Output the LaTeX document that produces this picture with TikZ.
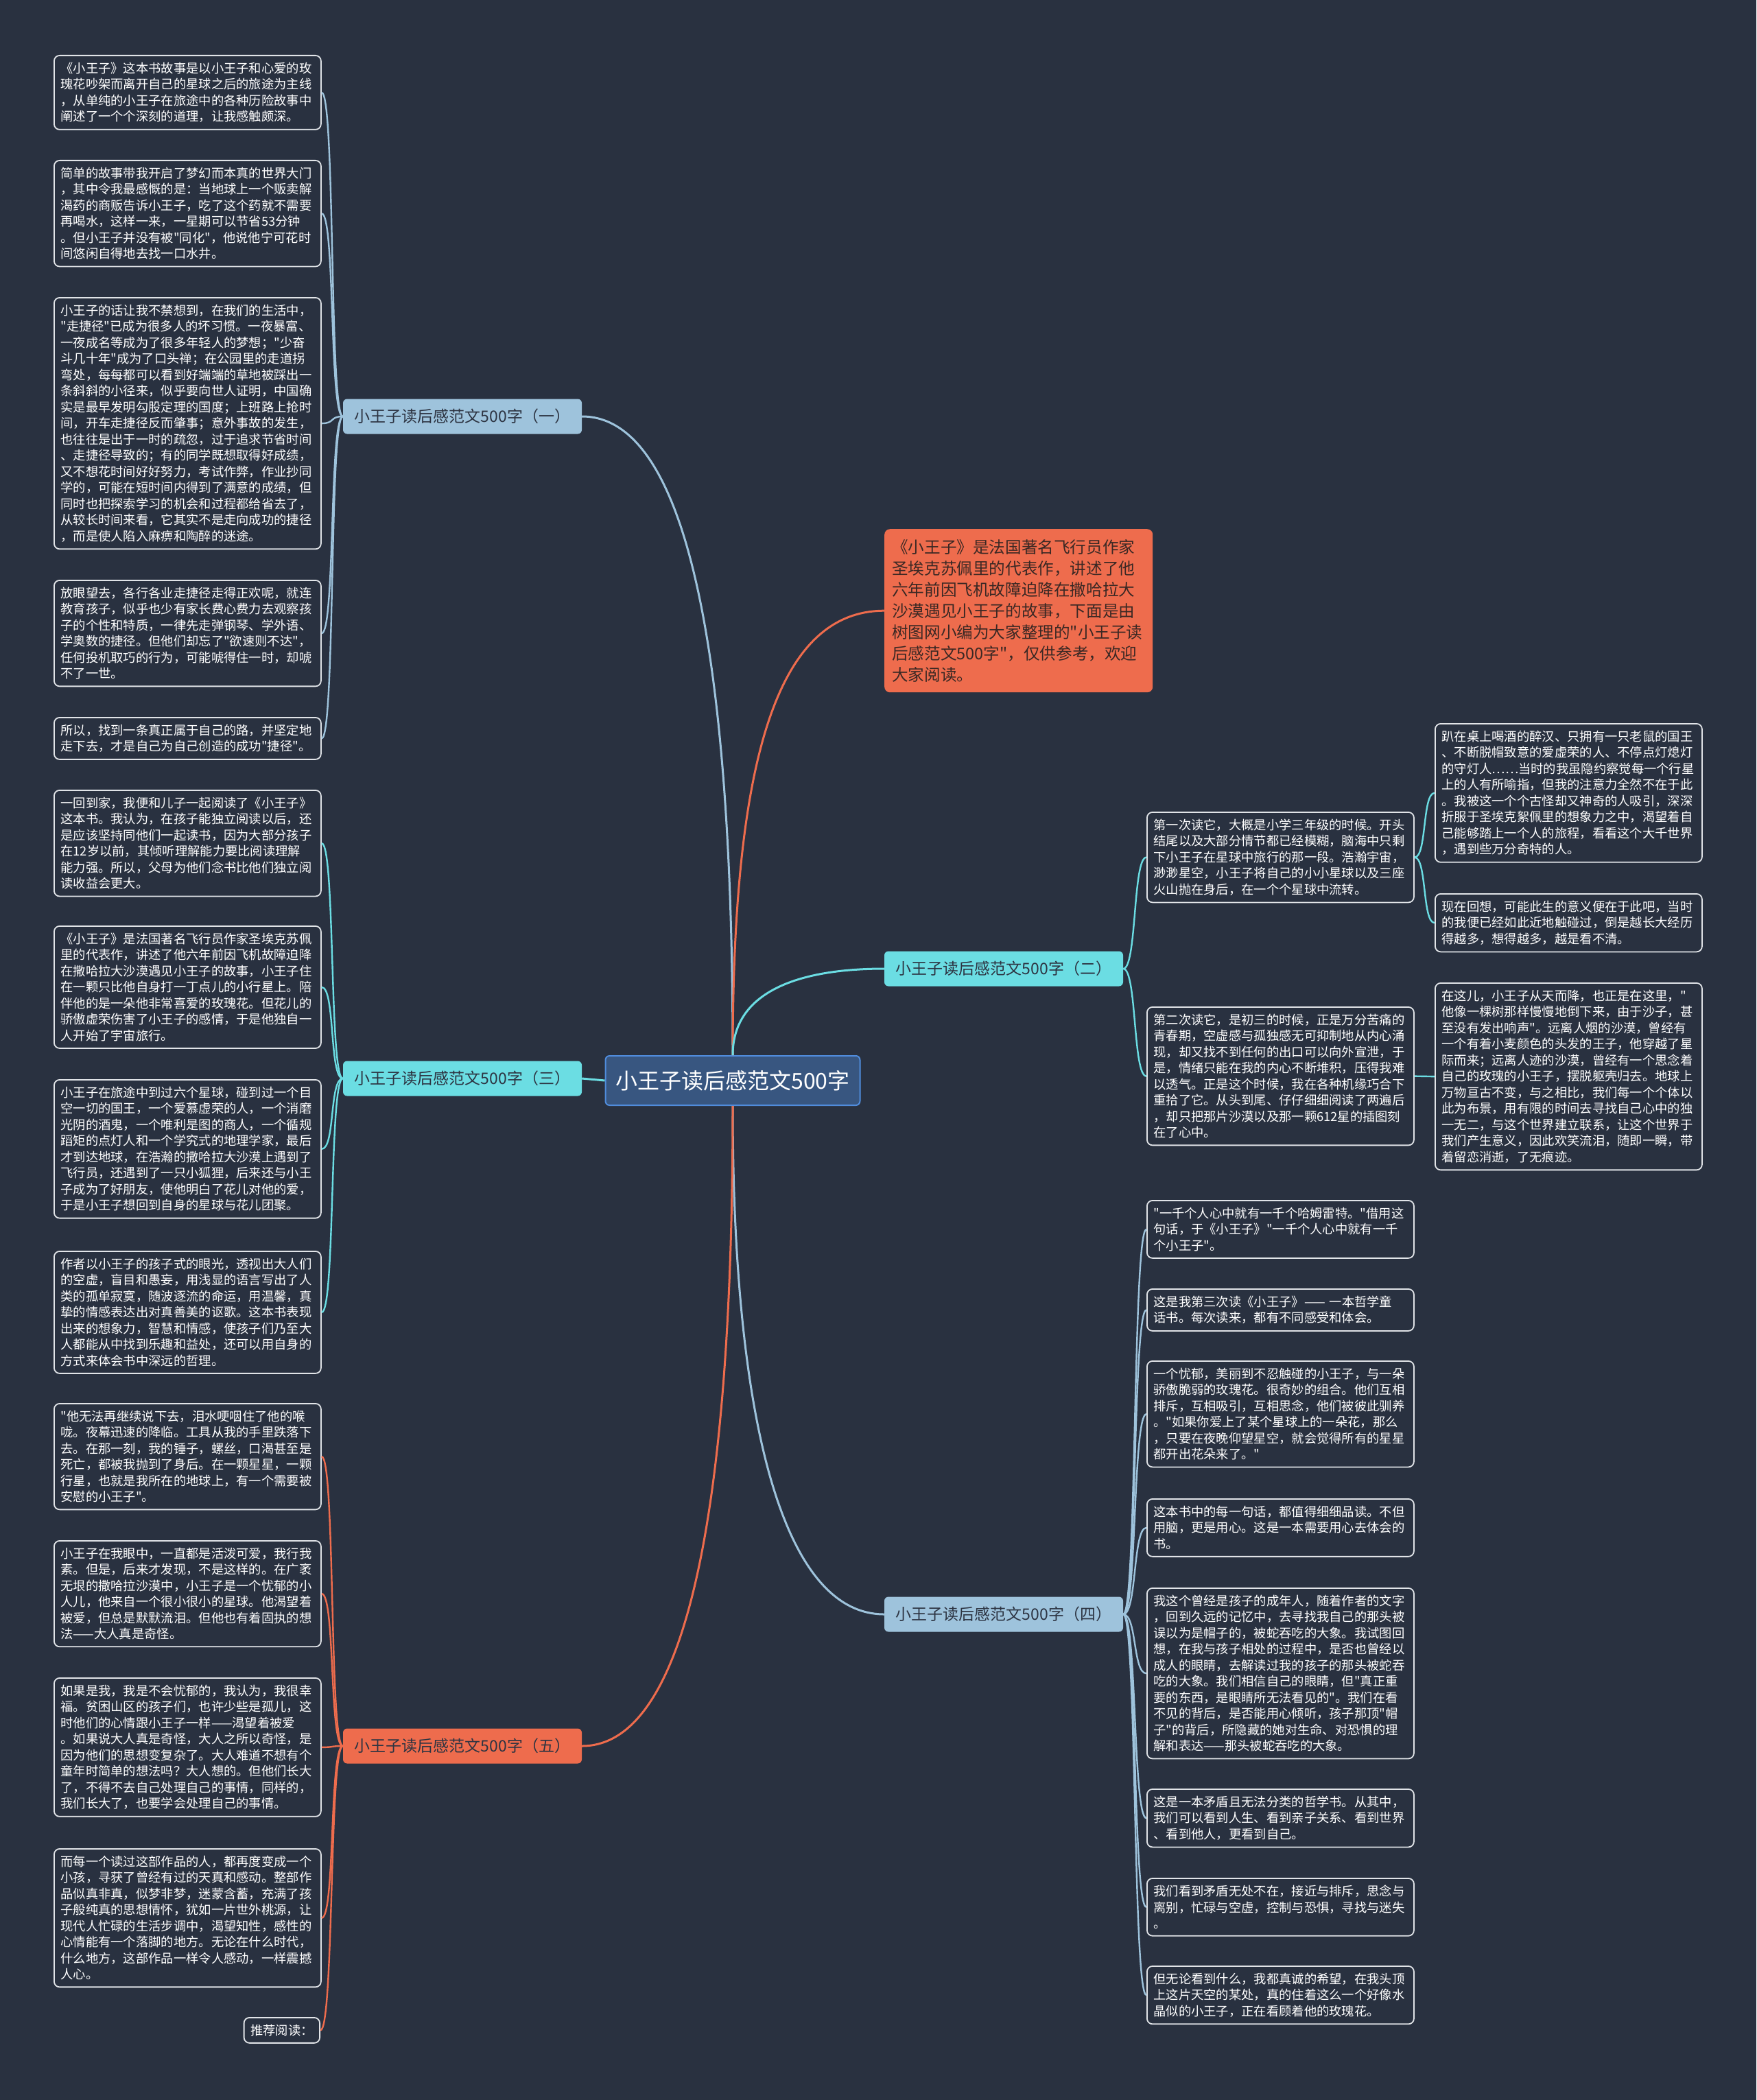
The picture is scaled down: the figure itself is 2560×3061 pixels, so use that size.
\documentclass[tikz,border=0pt]{standalone}
\usepackage{fontspec}
\newfontfamily\cjkfont{Noto Sans CJK SC}
\definecolor{bgcol}{RGB}{41,49,64}
\definecolor{bluebr}{RGB}{158,195,220}
\definecolor{cyanbr}{RGB}{107,221,227}
\definecolor{orangebr}{RGB}{238,108,77}
\definecolor{rootfill}{RGB}{56,86,128}
\definecolor{rootdraw}{RGB}{80,140,220}
\definecolor{leafline}{RGB}{225,228,232}
\definecolor{darktext}{RGB}{45,52,66}
\definecolor{introtext}{RGB}{58,40,36}

\begin{document}
\begin{tikzpicture}[x=1pt, y=-1pt,
    leafbase/.style={draw=leafline, line width=1.8pt, rounded corners=8pt, fill=bgcol,
        text=white, align=left, inner xsep=9.5pt, inner ysep=10pt,
        font=\cjkfont\fontsize{18.3}{23.5}\selectfont, anchor=north west},
    leaf/.style={leafbase, text width=370pt},
    branch/.style={rounded corners=6pt, minimum width=348pt, minimum height=51pt,
        inner sep=0pt, text=darktext, font=\cjkfont\fontsize{23}{28}\selectfont},
    rootnode/.style={fill=rootfill, draw=rootdraw, line width=2pt, rounded corners=6pt,
        minimum width=371pt, minimum height=72pt, text=white, font=\cjkfont\fontsize{32}{38}\selectfont},
    intro/.style={fill=orangebr, rounded corners=8pt, text=introtext, align=left,
        text width=369pt, inner xsep=11pt, inner ysep=15pt,
        font=\cjkfont\fontsize{23.6}{31}\selectfont, anchor=north west},
    link/.style={line width=3pt},
    twig/.style={line width=2.4pt}]
\fill[bgcol] (0,0) rectangle (2560,3061);

% centre and main branches
\node[rootnode] (root) at (1068,1575) {小王子读后感范文500字};
\node[branch, fill=bluebr] (b1) at (674,607) {小王子读后感范文500字（一）};
\node[branch, fill=cyanbr] (b2) at (1463,1412) {小王子读后感范文500字（二）};
\node[branch, fill=cyanbr] (b3) at (674,1572) {小王子读后感范文500字（三）};
\node[branch, fill=bluebr] (b4) at (1463,2353) {小王子读后感范文500字（四）};
\node[branch, fill=orangebr] (b5) at (674,2545) {小王子读后感范文500字（五）};
\node[intro] (intro) at (1289,771) {《小王子》是法国著名飞行员作家\\圣埃克苏佩里的代表作，讲述了他\\六年前因飞机故障迫降在撒哈拉大\\沙漠遇见小王子的故事，下面是由\\树图网小编为大家整理的"小王子读\\后感范文500字"，仅供参考，欢迎\\大家阅读。};

% branch one
\node[leaf] (l1) at (78,80) {《小王子》这本书故事是以小王子和心爱的玫\\瑰花吵架而离开自己的星球之后的旅途为主线\\，从单纯的小王子在旅途中的各种历险故事中\\阐述了一个个深刻的道理，让我感触颇深。};
\node[leaf] (l2) at (78,233) {简单的故事带我开启了梦幻而本真的世界大门\\，其中令我最感慨的是：当地球上一个贩卖解\\渴药的商贩告诉小王子，吃了这个药就不需要\\再喝水，这样一来，一星期可以节省53分钟\\。但小王子并没有被"同化"，他说他宁可花时\\间悠闲自得地去找一口水井。};
\node[leaf] (l3) at (78,433) {小王子的话让我不禁想到，在我们的生活中，\\"走捷径"已成为很多人的坏习惯。一夜暴富、\\一夜成名等成为了很多年轻人的梦想；"少奋\\斗几十年"成为了口头禅；在公园里的走道拐\\弯处，每每都可以看到好端端的草地被踩出一\\条斜斜的小径来，似乎要向世人证明，中国确\\实是最早发明勾股定理的国度；上班路上抢时\\间，开车走捷径反而肇事；意外事故的发生，\\也往往是出于一时的疏忽，过于追求节省时间\\、走捷径导致的；有的同学既想取得好成绩，\\又不想花时间好好努力，考试作弊，作业抄同\\学的，可能在短时间内得到了满意的成绩，但\\同时也把探索学习的机会和过程都给省去了，\\从较长时间来看，它其实不是走向成功的捷径\\，而是使人陷入麻痹和陶醉的迷途。};
\node[leaf] (l4) at (78,845) {放眼望去，各行各业走捷径走得正欢呢，就连\\教育孩子，似乎也少有家长费心费力去观察孩\\子的个性和特质，一律先走弹钢琴、学外语、\\学奥数的捷径。但他们却忘了"欲速则不达"，\\任何投机取巧的行为，可能唬得住一时，却唬\\不了一世。};
\node[leaf] (l5) at (78,1045) {所以，找到一条真正属于自己的路，并坚定地\\走下去，才是自己为自己创造的成功"捷径"。};

% branch three
\node[leaf] (l6) at (78,1151) {一回到家，我便和儿子一起阅读了《小王子》\\这本书。我认为，在孩子能独立阅读以后，还\\是应该坚持同他们一起读书，因为大部分孩子\\在12岁以前，其倾听理解能力要比阅读理解\\能力强。所以，父母为他们念书比他们独立阅\\读收益会更大。};
\node[leaf] (l7) at (78,1349) {《小王子》是法国著名飞行员作家圣埃克苏佩\\里的代表作，讲述了他六年前因飞机故障迫降\\在撒哈拉大沙漠遇见小王子的故事，小王子住\\在一颗只比他自身打一丁点儿的小行星上。陪\\伴他的是一朵他非常喜爱的玫瑰花。但花儿的\\骄傲虚荣伤害了小王子的感情，于是他独自一\\人开始了宇宙旅行。};
\node[leaf] (l8) at (78,1573) {小王子在旅途中到过六个星球，碰到过一个目\\空一切的国王，一个爱慕虚荣的人，一个消磨\\光阴的酒鬼，一个唯利是图的商人，一个循规\\蹈矩的点灯人和一个学究式的地理学家，最后\\才到达地球，在浩瀚的撒哈拉大沙漠上遇到了\\飞行员，还遇到了一只小狐狸，后来还与小王\\子成为了好朋友，使他明白了花儿对他的爱，\\于是小王子想回到自身的星球与花儿团聚。};
\node[leaf] (l9) at (78,1823) {作者以小王子的孩子式的眼光，透视出大人们\\的空虚，盲目和愚妄，用浅显的语言写出了人\\类的孤单寂寞，随波逐流的命运，用温馨，真\\挚的情感表达出对真善美的讴歌。这本书表现\\出来的想象力，智慧和情感，使孩子们乃至大\\人都能从中找到乐趣和益处，还可以用自身的\\方式来体会书中深远的哲理。};

% branch five
\node[leaf] (l10) at (78,2045) {"他无法再继续说下去，泪水哽咽住了他的喉\\咙。夜幕迅速的降临。工具从我的手里跌落下\\去。在那一刻，我的锤子，螺丝，口渴甚至是\\死亡，都被我抛到了身后。在一颗星星，一颗\\行星，也就是我所在的地球上，有一个需要被\\安慰的小王子"。};
\node[leaf] (l11) at (78,2245) {小王子在我眼中，一直都是活泼可爱，我行我\\素。但是，后来才发现，不是这样的。在广袤\\无垠的撒哈拉沙漠中，小王子是一个忧郁的小\\人儿，他来自一个很小很小的星球。他渴望着\\被爱，但总是默默流泪。但他也有着固执的想\\法——大人真是奇怪。};
\node[leaf] (l12) at (78,2445) {如果是我，我是不会忧郁的，我认为，我很幸\\福。贫困山区的孩子们，也许少些是孤儿，这\\时他们的心情跟小王子一样——渴望着被爱\\。如果说大人真是奇怪，大人之所以奇怪，是\\因为他们的思想变复杂了。大人难道不想有个\\童年时简单的想法吗？大人想的。但他们长大\\了，不得不去自己处理自己的事情，同样的，\\我们长大了，也要学会处理自己的事情。};
\node[leaf] (l13) at (78,2694) {而每一个读过这部作品的人，都再度变成一个\\小孩，寻获了曾经有过的天真和感动。整部作\\品似真非真，似梦非梦，迷蒙含蓄，充满了孩\\子般纯真的思想情怀，犹如一片世外桃源，让\\现代人忙碌的生活步调中，渴望知性，感性的\\心情能有一个落脚的地方。无论在什么时代，\\什么地方，这部作品一样令人感动，一样震撼\\人心。};
\node[leafbase, anchor=north east] (l14) at (467,2940) {推荐阅读：};

% branch two
\node[leaf] (d1) at (1671,1183) {第一次读它，大概是小学三年级的时候。开头\\结尾以及大部分情节都已经模糊，脑海中只剩\\下小王子在星球中旅行的那一段。浩瀚宇宙，\\渺渺星空，小王子将自己的小小星球以及三座\\火山抛在身后，在一个个星球中流转。};
\node[leaf] (d2) at (1671,1467) {第二次读它，是初三的时候，正是万分苦痛的\\青春期，空虚感与孤独感无可抑制地从内心涌\\现，却又找不到任何的出口可以向外宣泄，于\\是，情绪只能在我的内心不断堆积，压得我难\\以透气。正是这个时候，我在各种机缘巧合下\\重拾了它。从头到尾、仔仔细细阅读了两遍后\\，却只把那片沙漠以及那一颗612星的插图刻\\在了心中。};
\node[leaf] (g1) at (2091,1054) {趴在桌上喝酒的醉汉、只拥有一只老鼠的国王\\、不断脱帽致意的爱虚荣的人、不停点灯熄灯\\的守灯人……当时的我虽隐约察觉每一个行星\\上的人有所喻指，但我的注意力全然不在于此\\。我被这一个个古怪却又神奇的人吸引，深深\\折服于圣埃克絮佩里的想象力之中，渴望着自\\己能够踏上一个人的旅程，看看这个大千世界\\，遇到些万分奇特的人。};
\node[leaf] (g2) at (2091,1302) {现在回想，可能此生的意义便在于此吧，当时\\的我便已经如此近地触碰过，倒是越长大经历\\得越多，想得越多，越是看不清。};
\node[leaf] (g3) at (2091,1432) {在这儿，小王子从天而降，也正是在这里，"\\他像一棵树那样慢慢地倒下来，由于沙子，甚\\至没有发出响声"。远离人烟的沙漠，曾经有\\一个有着小麦颜色的头发的王子，他穿越了星\\际而来；远离人迹的沙漠，曾经有一个思念着\\自己的玫瑰的小王子，摆脱躯壳归去。地球上\\万物亘古不变，与之相比，我们每一个个体以\\此为布景，用有限的时间去寻找自己心中的独\\一无二，与这个世界建立联系，让这个世界于\\我们产生意义，因此欢笑流泪，随即一瞬，带\\着留恋消逝，了无痕迹。};

% branch four
\node[leaf] (f1) at (1671,1749) {"一千个人心中就有一千个哈姆雷特。"借用这\\句话，于《小王子》"一千个人心中就有一千\\个小王子"。};
\node[leaf] (f2) at (1671,1878) {这是我第三次读《小王子》—— 一本哲学童\\话书。每次读来，都有不同感受和体会。};
\node[leaf] (f3) at (1671,1983) {一个忧郁，美丽到不忍触碰的小王子，与一朵\\骄傲脆弱的玫瑰花。很奇妙的组合。他们互相\\排斥，互相吸引，互相思念，他们被彼此驯养\\。"如果你爱上了某个星球上的一朵花，那么\\，只要在夜晚仰望星空，就会觉得所有的星星\\都开出花朵来了。"};
\node[leaf] (f4) at (1671,2184) {这本书中的每一句话，都值得细细品读。不但\\用脑，更是用心。这是一本需要用心去体会的\\书。};
\node[leaf] (f5) at (1671,2314) {我这个曾经是孩子的成年人，随着作者的文字\\，回到久远的记忆中，去寻找我自己的那头被\\误以为是帽子的，被蛇吞吃的大象。我试图回\\想，在我与孩子相处的过程中，是否也曾经以\\成人的眼睛，去解读过我的孩子的那头被蛇吞\\吃的大象。我们相信自己的眼睛，但"真正重\\要的东西，是眼睛所无法看见的"。我们在看\\不见的背后，是否能用心倾听，孩子那顶"帽\\子"的背后，所隐藏的她对生命、对恐惧的理\\解和表达——那头被蛇吞吃的大象。};
\node[leaf] (f6) at (1671,2607) {这是一本矛盾且无法分类的哲学书。从其中，\\我们可以看到人生、看到亲子关系、看到世界\\、看到他人，更看到自己。};
\node[leaf] (f7) at (1671,2737) {我们看到矛盾无处不在，接近与排斥，思念与\\离别，忙碌与空虚，控制与恐惧，寻找与迷失\\。};
\node[leaf] (f8) at (1671,2865) {但无论看到什么，我都真诚的希望，在我头顶\\上这片天空的某处，真的住着这么一个好像水\\晶似的小王子，正在看顾着他的玫瑰花。};

% connectors from the centre
\draw[link, bluebr] (root.north) .. controls +(0,-600) and +(150,0) .. (b1.east);
\draw[link, orangebr] (root.north) .. controls +(0,-420) and +(-160,0) .. (intro.west);
\draw[link, cyanbr] (root.north) .. controls +(0,-90) and +(-130,0) .. (b2.west);
\draw[link, cyanbr] (root.west) -- (b3.east);
\draw[link, bluebr] (root.south) .. controls +(0,450) and +(-150,0) .. (b4.west);
\draw[link, orangebr] (root.south) .. controls +(0,600) and +(150,0) .. (b5.east);

% connectors to the leaves
\foreach \leafname in {l1,l2,l3,l4,l5}
  \draw[twig, bluebr] (b1.west) .. controls +(-20,0) and +(20,0) .. (\leafname.east);
\foreach \leafname in {l6,l7,l8,l9}
  \draw[twig, cyanbr] (b3.west) .. controls +(-20,0) and +(20,0) .. (\leafname.east);
\foreach \leafname in {l10,l11,l12,l13,l14}
  \draw[twig, orangebr] (b5.west) .. controls +(-20,0) and +(20,0) .. (\leafname.east);
\foreach \leafname in {d1,d2}
  \draw[twig, cyanbr] (b2.east) .. controls +(20,0) and +(-20,0) .. (\leafname.west);
\foreach \leafname in {g1,g2}
  \draw[twig, cyanbr] (d1.east) .. controls +(18,0) and +(-18,0) .. (\leafname.west);
\draw[twig, cyanbr] (d2.east) -- (g3.west);
\foreach \leafname in {f1,f2,f3,f4,f5,f6,f7,f8}
  \draw[twig, bluebr] (b4.east) .. controls +(20,0) and +(-20,0) .. (\leafname.west);
\end{tikzpicture}
\end{document}
